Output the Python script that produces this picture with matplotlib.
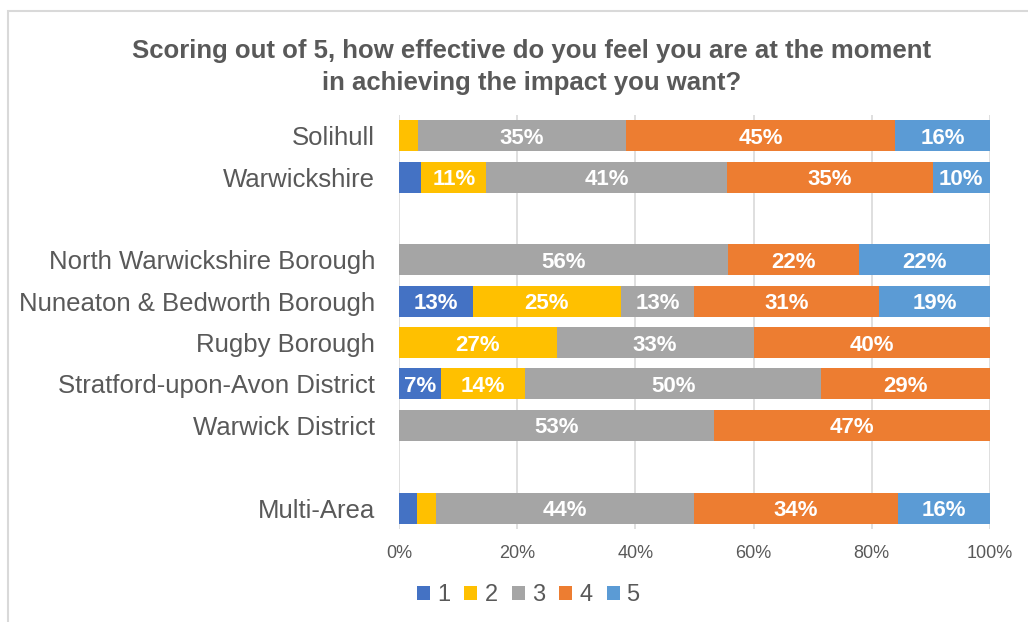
import matplotlib.pyplot as plt
from matplotlib.patches import Rectangle

plt.rcParams['font.family'] = ['Liberation Sans', 'DejaVu Sans']

# Areas top to bottom; empty strings leave a gap row between groups
areas = ["Solihull", "Warwickshire", "",
         "North Warwickshire Borough", "Nuneaton & Bedworth Borough",
         "Rugby Borough", "Stratford-upon-Avon District", "Warwick District", "",
         "Multi-Area"]

scores = ["1", "2", "3", "4", "5"]
colors = ["#4472C4", "#FFC000", "#A5A5A5", "#ED7D31", "#5B9BD5"]

# share of responses (%) per score, one list per area row
score_1 = [0.0, 3.8, 0, 0.0, 12.5, 0.0, 7.1, 0.0, 0, 3.1]
score_2 = [3.2, 11.0, 0, 0.0, 25.0, 26.7, 14.3, 0.0, 0, 3.1]
score_3 = [35.3, 40.7, 0, 55.6, 12.5, 33.3, 50.0, 53.3, 0, 43.8]
score_4 = [45.4, 34.8, 0, 22.2, 31.3, 40.0, 28.6, 46.7, 0, 34.4]
score_5 = [16.1, 9.7, 0, 22.2, 18.7, 0.0, 0.0, 0.0, 0, 15.6]
series = [score_1, score_2, score_3, score_4, score_5]

fig = plt.figure(figsize=(10.28, 6.22), dpi=100)
ax = fig.add_axes([0.388, 0.150, 0.575, 0.665])

# light chart frame
fig.patches.append(Rectangle((8 / 1028, -0.1), 1.2, 1 - 11 / 622 + 0.1,
                             transform=fig.transFigure, fill=False,
                             edgecolor="#D9D9D9", linewidth=1.5))

ypos = list(range(len(areas)))
left = [0.0] * len(areas)
for name, vals, col in zip(scores, series, colors):
    ax.barh(ypos, vals, left=left, height=0.75, color=col, label=name, zorder=2)
    for y, v, l in zip(ypos, vals, left):
        if v >= 5:
            ax.text(l + v / 2, y, f"{int(v + 0.5)}%", ha="center", va="center_baseline",
                    color="white", fontsize=16, fontweight="bold", zorder=3)
    left = [a + b for a, b in zip(left, vals)]

ax.set_xlim(0, 100)
ax.set_ylim(len(areas) - 0.5, -0.5)
ax.set_yticks(ypos)
ax.set_yticklabels(areas, fontsize=18.5, color="#595959")
ax.set_xticks([0, 20, 40, 60, 80, 100])
ax.set_xticklabels([f"{t}%" for t in range(0, 101, 20)], fontsize=13, color="#595959")
ax.tick_params(axis="both", length=0)
ax.tick_params(axis="x", pad=12)
ax.tick_params(axis="y", pad=17)
ax.grid(axis="x", color="#D9D9D9", linewidth=1.2, zorder=0)
ax.set_axisbelow(True)
for s in ax.spines.values():
    s.set_visible(False)

fig.text(0.517, 0.892, "Scoring out of 5, how effective do you feel you are at the moment\n"
         "in achieving the impact you want?", ha="center", va="center",
         fontsize=18.5, fontweight="bold", color="#595959", linespacing=1.4)

fig.legend(loc="center", bbox_to_anchor=(0.514, 0.043), ncol=5, frameon=False,
           fontsize=17, labelcolor="#595959", handlelength=0.55, handleheight=0.55,
           handletextpad=0.3, columnspacing=0.6)

fig.savefig("out.png", dpi=100)
